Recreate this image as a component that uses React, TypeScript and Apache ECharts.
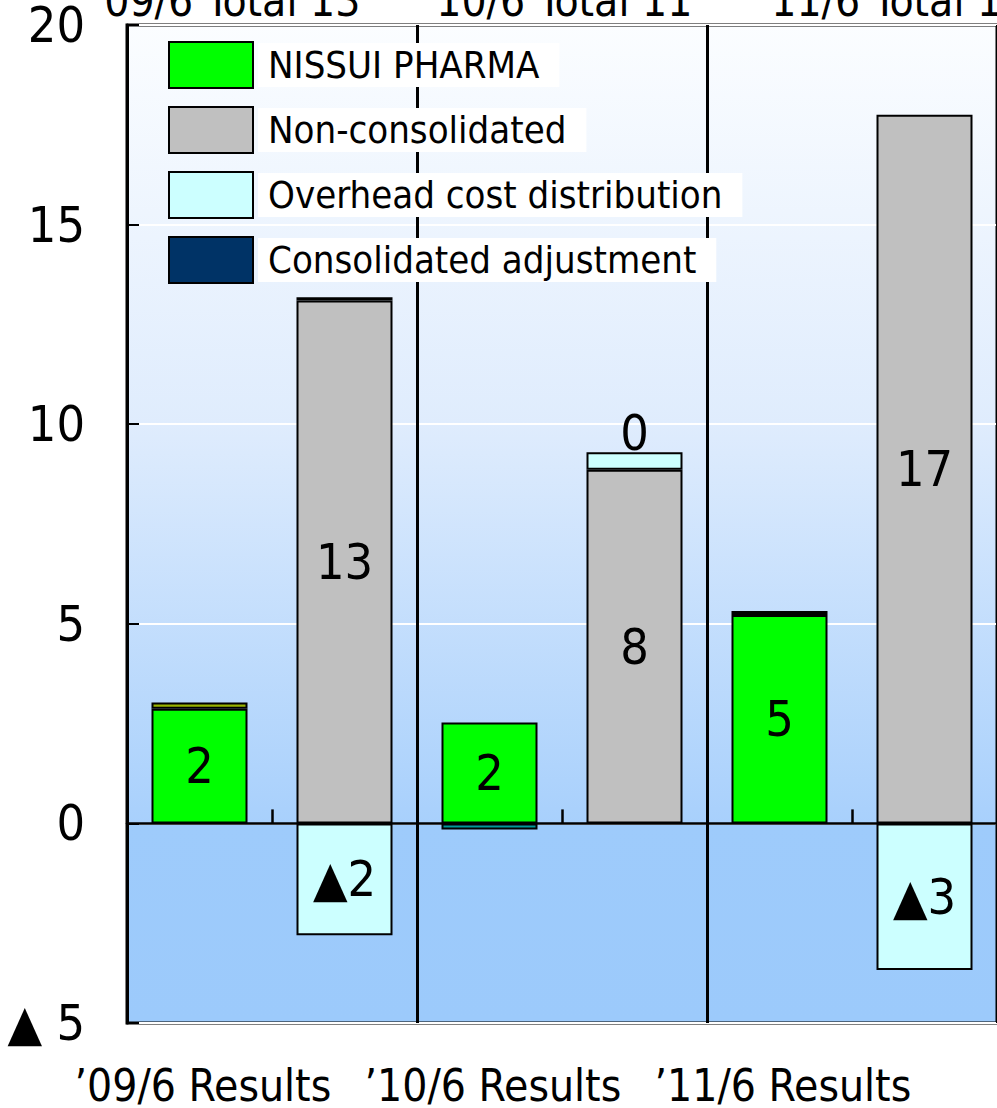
import React, { useEffect, useRef } from "react";
import * as echarts from "echarts";

// Operating income breakdown (100 million yen), two bars per fiscal period
const categories = ["’09/6 Results", "", "’10/6 Results", "", "’11/6 Results", ""];
const periods = ["’09/6", "’10/6", "’11/6"];
const nissuiPharma = [2.87, null, 2.53, null, 5.22, null];
const nonConsolidated = [null, 13.1, null, 8.86, null, 17.75];
const overheadCost = [null, -2.8, null, 0.44, null, -3.67];
const consolidatedAdj = [0.16, 0.08, -0.15, null, 0.1, null];
const yMin = -5;
const yMax = 20;
const yStep = 5;

const FONT = "'Liberation Sans Narrow','DejaVu Sans Condensed','Roboto',sans-serif";
const adjFill = ["#99b300", "#003366", "#009999", "#003366", "#003366", "#003366"];

const trunc = (v: number) => Math.trunc(v);
const fmtSigned = (v: number) => (v < 0 ? "▲" + trunc(Math.abs(v)) : String(trunc(v)));

function periodTotal(p: number): number {
  let s = 0;
  [nissuiPharma, nonConsolidated, overheadCost, consolidatedAdj].forEach((arr) => {
    [2 * p, 2 * p + 1].forEach((i) => {
      const v = arr[i];
      if (v != null) s += v;
    });
  });
  return trunc(s);
}

export default function App() {
  const ref = useRef<HTMLDivElement>(null);

  useEffect(() => {
    if (!ref.current) return;
    const chart = echarts.init(ref.current, undefined, { renderer: "svg" });

    const border = { color: "#000", width: 2 };
    const barBase = {
      type: "bar" as const,
      stack: "total",
      barWidth: 96,
      xAxisIndex: 0,
    };
    const labelStyle = {
      color: "#000",
      fontFamily: FONT,
      fontSize: 50,
    };

    const titleX = [226, 558, 893];

    chart.setOption({
      animation: false,
      grid: {
        left: 127,
        top: 25,
        width: 873,
        height: 998,
        show: true,
        borderColor: "#000",
        borderWidth: 3,
        backgroundColor: new echarts.graphic.LinearGradient(0, 0, 0, 1, [
          { offset: 0, color: "#fbfdff" },
          { offset: 0.4, color: "#dfecfd" },
          { offset: 0.8, color: "#a8d0fc" },
          { offset: 0.8, color: "#9ecbfb" },
          { offset: 1, color: "#9ccafb" },
        ]),
      },
      legend: {
        orient: "vertical",
        left: 163,
        top: 36,
        itemWidth: 84,
        itemHeight: 46,
        itemGap: 17,
        icon: "rect",
        textStyle: {
          color: "#000",
          fontFamily: FONT,
          fontSize: 38,
          backgroundColor: "#ffffff",
          padding: [3, 20, 3, 10],
        },
        data: ["NISSUI PHARMA", "Non-consolidated", "Overhead cost distribution", "Consolidated adjustment"],
      },
      xAxis: [
        {
          type: "category",
          position: "bottom",
          data: categories,
          axisLine: { show: false, onZero: false },
          axisTick: { show: false },
          axisLabel: {
            interval: 0,
            color: "#000",
            fontFamily: FONT,
            fontSize: 44,
            margin: 40,
            align: "left",
            padding: [0, 0, 0, -125],
          },
          splitLine: {
            show: true,
            interval: (index: number) => index === 2 || index === 4,
            lineStyle: { color: "#000", width: 3 },
          },
        },
        {
          type: "category",
          position: "bottom",
          data: categories,
          axisLine: { show: true, onZero: true, lineStyle: { color: "#000", width: 2.5 } },
          axisTick: { show: true, inside: true, length: 14, interval: 0, lineStyle: { color: "#000", width: 2.5 } },
          axisLabel: { show: false },
          splitLine: { show: false },
        },
      ],
      yAxis: {
        type: "value",
        min: yMin,
        max: yMax,
        interval: yStep,
        axisLine: { show: true, lineStyle: { color: "#000", width: 3 } },
        axisTick: { show: true, inside: true, length: 12, lineStyle: { color: "#000", width: 2 } },
        axisLabel: {
          color: "#000",
          fontFamily: FONT,
          fontSize: 50,
          margin: 42,
          formatter: (v: number) => (v < 0 ? "▲ " + Math.abs(v) : String(v)),
        },
        splitLine: { show: true, lineStyle: { color: "#ffffff", width: 2 } },
      },
      graphic: periods.map((p, i) => ({
        type: "text",
        x: titleX[i],
        y: 0,
        style: {
          text: `${p} Total ${periodTotal(i)}`,
          fill: "#000",
          font: `44px ${FONT}`,
          align: "center",
          verticalAlign: "middle",
        },
      })),
      series: [
        {
          ...barBase,
          name: "NISSUI PHARMA",
          data: nissuiPharma,
          itemStyle: { color: "#00ff00", borderColor: border.color, borderWidth: border.width },
          label: { show: true, position: "inside", ...labelStyle, formatter: (p: any) => fmtSigned(p.value) },
        },
        {
          ...barBase,
          name: "Non-consolidated",
          data: nonConsolidated,
          itemStyle: { color: "#c0c0c0", borderColor: border.color, borderWidth: border.width },
          label: { show: true, position: "inside", ...labelStyle, formatter: (p: any) => fmtSigned(p.value) },
        },
        {
          ...barBase,
          name: "Overhead cost distribution",
          data: overheadCost.map((v) =>
            v == null
              ? null
              : {
                  value: v,
                  label: v < 0 ? { position: "inside" } : { position: "top", distance: -6 },
                }
          ),
          itemStyle: { color: "#ccffff", borderColor: border.color, borderWidth: border.width },
          label: { show: true, ...labelStyle, formatter: (p: any) => fmtSigned(p.value) },
        },
        {
          ...barBase,
          name: "Consolidated adjustment",
          data: consolidatedAdj.map((v, i) =>
            v == null ? null : { value: v, itemStyle: { color: adjFill[i] } }
          ),
          itemStyle: { color: "#003366", borderColor: border.color, borderWidth: border.width },
          label: { show: false },
        },
      ],
    });

    return () => chart.dispose();
  }, []);

  return (
    <div
      ref={ref}
      style={{ position: "fixed", left: 0, top: 0, width: 997, height: 1108, background: "#ffffff" }}
    />
  );
}
